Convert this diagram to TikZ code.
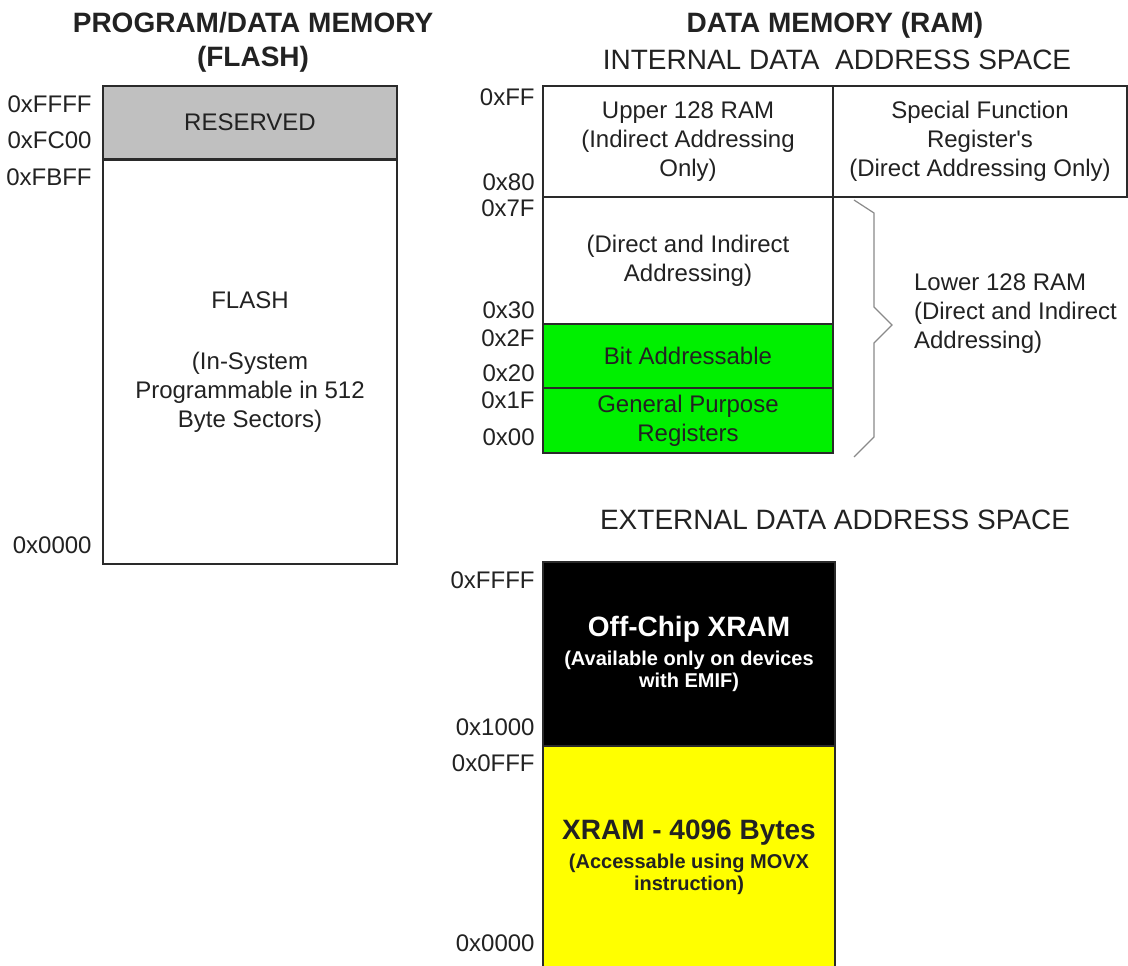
\documentclass[tikz,border=0pt]{standalone}
\usepackage{fontspec}
\setmainfont{Liberation Sans}
\usetikzlibrary{positioning}
\definecolor{ink}{HTML}{222222}
\definecolor{boxLine}{HTML}{2A2A2A}
\definecolor{resGrey}{HTML}{C0C0C0}
\definecolor{bitGreen}{HTML}{00F000}
\definecolor{xramYellow}{HTML}{FFFF00}
\definecolor{braceGrey}{HTML}{8A8A8A}
\tikzset{
  memblk/.style={draw=boxLine,line width=0.9pt,inner sep=0pt,align=center,
    font=\fontsize{12}{14.5}\selectfont,text=ink},
  xblk/.style={memblk,font=\bfseries\fontsize{10}{11}\selectfont},
  addr/.style={anchor=east,font=\fontsize{12}{14.5}\selectfont,text=ink,inner sep=0pt},
  htitle/.style={font=\fontsize{14}{17}\selectfont\bfseries,text=ink,align=center},
  stitle/.style={font=\fontsize{14}{17}\selectfont,text=ink,align=center},
  sidetxt/.style={font=\fontsize{12}{14.5}\selectfont,text=ink,align=left,anchor=west}}
\newcommand{\xhead}[1]{{\fontsize{14}{17}\selectfont #1}}

\begin{document}
\begin{tikzpicture}[x=0.5pt,y=-0.5pt]
\useasboundingbox[fill=white] (0,0) rectangle (1128,965);
% program / data memory
\node[htitle] (ptitle) at (253,42) {PROGRAM/DATA MEMORY\\(FLASH)};
\node[memblk,fill=resGrey,minimum width=147pt,minimum height=36.5pt] (resv) at (250,122.5) {RESERVED};
\node[memblk,minimum width=147pt,minimum height=202pt] (flash) at (250,362)
  {FLASH\\[16pt](In-System\\Programmable in 512\\Byte Sectors)};
\node[addr] (fa1) at (92,104) {0xFFFF};
\node[addr] (fa2) at (92,140) {0xFC00};
\node[addr] (fa3) at (92,177) {0xFBFF};
\node[addr] (fa4) at (92,545) {0x0000};
% internal data memory
\node[htitle] (dtitle) at (835,25) {DATA MEMORY (RAM)};
\node[stitle] (itxt) at (837,60) {INTERNAL DATA\ \ ADDRESS SPACE};
\node[memblk,minimum width=145pt,minimum height=55.5pt] (upr) at (688,141.5) {Upper 128 RAM\\(Indirect Addressing\\Only)};
\node[memblk,minimum width=147pt,minimum height=55.5pt] (sfr) at (980,141.5) {Special Function\\Register\textquotesingle s\\(Direct Addressing Only)};
\node[memblk,minimum width=145pt,minimum height=63.5pt] (lowr) at (688,260.5) {(Direct and Indirect\\Addressing)};
\node[memblk,fill=bitGreen,minimum width=145pt,minimum height=32pt] (bitad) at (688,356) {Bit Addressable};
\node[memblk,fill=bitGreen,minimum width=145pt,minimum height=32.5pt] (gpr) at (688,420.5) {General Purpose\\Registers};
\node[addr] (ia1) at (535,97) {0xFF};
\node[addr] (ia2) at (535,182) {0x80};
\node[addr] (ia3) at (535,208) {0x7F};
\node[addr] (ia4) at (535,310) {0x30};
\node[addr] (ia5) at (535,338) {0x2F};
\node[addr] (ia6) at (535,373) {0x20};
\node[addr] (ia7) at (535,400) {0x1F};
\node[addr] (ia8) at (535,437) {0x00};
\draw[braceGrey,line width=0.6pt] (854,200) -- (874,213) -- (874,307) -- (892,325)
  -- (874,343) -- (874,437) -- (854,457);
\node[sidetxt] (lowtxt) at (907,314) {Lower 128 RAM\\(Direct and Indirect\\Addressing)};
% external data memory
\node[stitle] (etxt) at (835,520) {EXTERNAL DATA ADDRESS SPACE};
\node[xblk,fill=black,text=white,minimum width=146pt,minimum height=92pt] (offchip) at (689,654)
  {\xhead{Off-Chip XRAM}\\[3.5pt](Available only on devices\\with EMIF)};
\node[xblk,fill=xramYellow,minimum width=146pt,minimum height=111pt] (xram) at (689,857)
  {\xhead{XRAM - 4096 Bytes}\\[3.5pt](Accessable using MOVX\\instruction)};
\node[addr] (ea1) at (535,580) {0xFFFF};
\node[addr] (ea2) at (535,727) {0x1000};
\node[addr] (ea3) at (535,763) {0x0FFF};
\node[addr] (ea4) at (535,943) {0x0000};
\end{tikzpicture}
\end{document}
